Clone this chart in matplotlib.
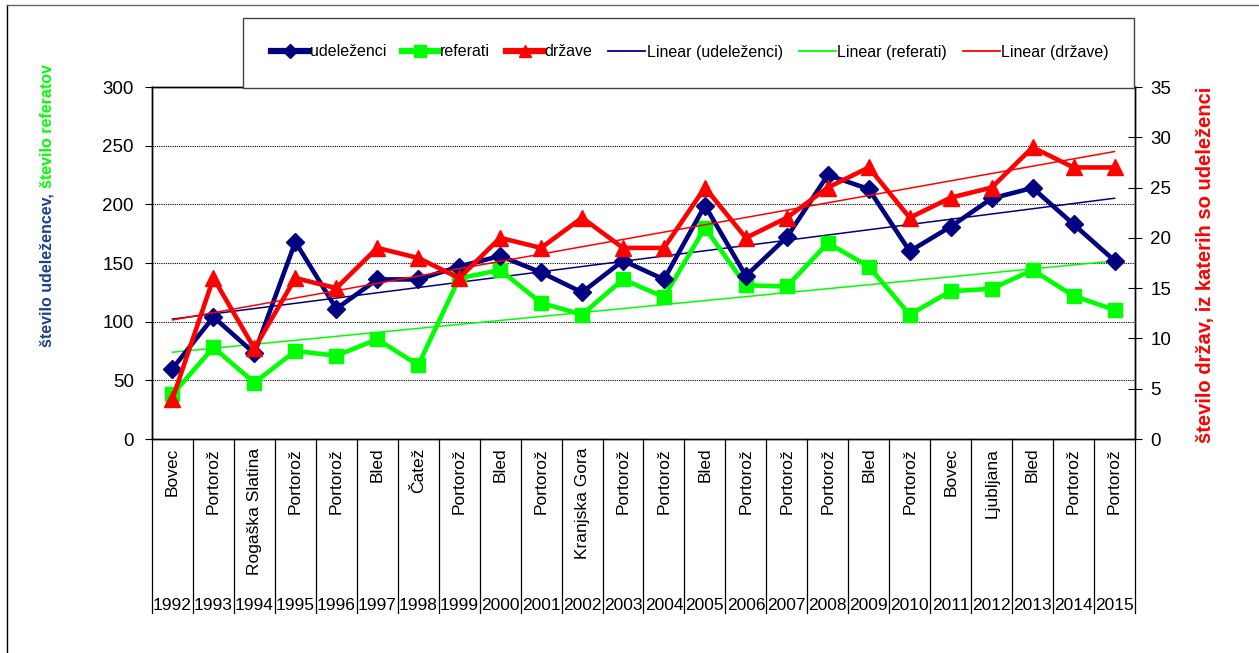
import numpy as np
import matplotlib
matplotlib.use("Agg")
import matplotlib.pyplot as plt
from matplotlib.lines import Line2D
from matplotlib.patches import Rectangle

plt.rcParams['font.family'] = ['Liberation Sans', 'DejaVu Sans']

years = [str(y) for y in range(1992, 2016)]
places = ["Bovec", "Portorož", "Rogaška Slatina", "Portorož", "Portorož", "Bled",
          "Čatež", "Portorož", "Bled", "Portorož", "Kranjska Gora", "Portorož",
          "Portorož", "Bled", "Portorož", "Portorož", "Portorož", "Bled",
          "Portorož", "Bovec", "Ljubljana", "Bled", "Portorož", "Portorož"]
udelezenci = [60, 104, 73, 168, 111, 136, 136, 147, 156, 142, 125, 152,
              136, 199, 139, 172, 225, 213, 160, 181, 205, 214, 183, 152]
referati = [38, 78, 48, 75, 71, 85, 63, 137, 144, 116, 106, 136,
            121, 180, 131, 130, 167, 147, 106, 126, 128, 144, 122, 110]
drzave = [4, 16, 9, 16, 15, 19, 18, 16, 20, 19, 22, 19,
          19, 25, 20, 22, 25, 27, 22, 24, 25, 29, 27, 27]

NAVY = "#000080"
GREEN = "#00FF00"
RED = "#FF0000"

W, H = 1259, 653
fig = plt.figure(figsize=(W / 100, H / 100), dpi=100)
ax = fig.add_axes([152 / W, 1 - 439 / H, (1135 - 152) / W, (439 - 87) / H])
ax2 = ax.twinx()

x = np.arange(len(years))

# linear trends
for vals, col, a in [(udelezenci, NAVY, ax), (referati, GREEN, ax), (drzave, RED, ax2)]:
    k, n = np.polyfit(x, vals, 1)
    a.plot(x, k * x + n, color=col, lw=1.1, zorder=2)

ax.plot(x, referati, color=GREEN, lw=3.3, marker="s", ms=10, zorder=3)
ax.plot(x, udelezenci, color=NAVY, lw=3.3, marker="D", ms=9, zorder=4)
ax2.plot(x, drzave, color=RED, lw=3.3, marker="^", ms=11, zorder=5)

ax.set_xlim(-0.5, len(years) - 0.5)
ax.set_ylim(0, 300)
ax2.set_ylim(0, 35)
ax.set_yticks(range(0, 301, 50))
ax2.set_yticks(range(0, 36, 5))
for v in range(50, 301, 50):
    ax.axhline(v, color="black", lw=0.8, ls=(0, (1, 1)), zorder=1)

ax.tick_params(axis="y", direction="out", length=5, labelsize=13.5, pad=8)
ax2.tick_params(axis="y", direction="inout", length=10, labelsize=13.5, pad=6)
ax.set_xticks([])
for a in (ax, ax2):
    for s in a.spines.values():
        s.set_color("black")
        s.set_linewidth(1)

# two-level category labels
trans = ax.get_xaxis_transform()
for i in range(len(years)):
    ax.text(i, -0.025, places[i], rotation=90, ha="center", va="top",
            fontsize=12.5, transform=trans, clip_on=False)
    ax.text(i, -0.472, years[i], ha="center", va="center",
            fontsize=12.5, transform=trans, clip_on=False)
for b in np.arange(-0.5, len(years), 1):
    ax.plot([b, b], [0, -0.495], color="black", lw=0.9, transform=trans, clip_on=False)

# axis titles (left one in two colours)
t1 = fig.text(47 / W, 1 - 347 / H, "število udeležencev,", rotation=90, color="#1F3F8F",
              fontsize=11.5, fontweight="bold", ha="center", va="bottom")
fig.canvas.draw()
top = t1.get_window_extent().y1
fig.text(47 / W, (top + 5) / H, "število referatov", rotation=90, color=GREEN,
         fontsize=11.5, fontweight="bold", ha="center", va="bottom")
fig.text(1206 / W, 1 - 265 / H, "število držav, iz katerih so udeleženci", rotation=90,
         color=RED, fontsize=14.5, fontweight="bold", ha="center", va="center")

# legend
fig.patches.append(Rectangle((243 / W, 1 - 88 / H), (1134 - 243) / W, 70 / H,
                             transform=fig.transFigure, fill=True, facecolor="white",
                             edgecolor="#444444", lw=1, zorder=10))
handles = [
    Line2D([], [], color=NAVY, lw=4.5, marker="D", ms=7),
    Line2D([], [], color=GREEN, lw=4.5, marker="s", ms=8),
    Line2D([], [], color=RED, lw=4.5, marker="^", ms=9),
    Line2D([], [], color=NAVY, lw=1.3),
    Line2D([], [], color=GREEN, lw=1.3),
    Line2D([], [], color=RED, lw=1.3),
]
labels = ["udeleženci", "referati", "države", "Linear (udeleženci)",
          "Linear (referati)", "Linear (države)"]
leg = fig.legend(handles, labels, loc="center", bbox_to_anchor=(690 / W, 1 - 52 / H),
                 ncol=6, frameon=False, fontsize=11.5, handlelength=2.3,
                 handletextpad=0.1, columnspacing=1.0)
leg.set_zorder(11)

# outer frame (only top and left edges visible)
fig.add_artist(Line2D([7 / W, 7 / W], [0, 1 - 5 / H], transform=fig.transFigure,
                      color="black", lw=1))
fig.add_artist(Line2D([7 / W, 1], [1 - 5 / H, 1 - 5 / H], transform=fig.transFigure,
                      color="#666666", lw=1))

fig.savefig("out.png", dpi=100)
